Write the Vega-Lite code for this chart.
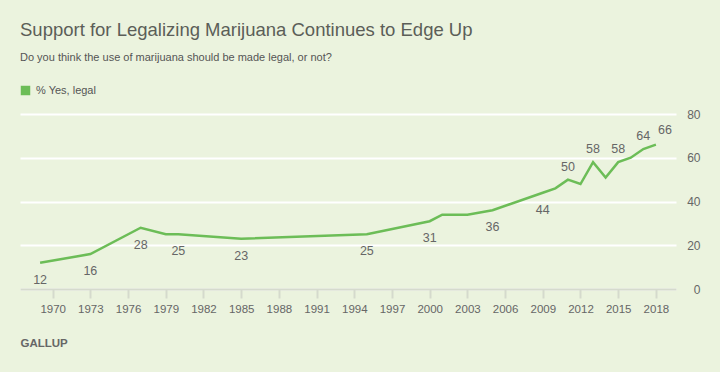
{
  "$schema": "https://vega.github.io/schema/vega-lite/v6.json",
  "autosize": "none",
  "width": 656,
  "height": 175,
  "padding": {"left": 20, "top": 114, "right": 44, "bottom": 83},
  "background": "#ebf3de",
  "config": {
    "view": {"stroke": null},
    "font": "Liberation Sans",
    "text": {"font": "Liberation Sans"}
  },
  "title": {
    "text": "Support for Legalizing Marijuana Continues to Edge Up",
    "subtitle": "Do you think the use of marijuana should be made legal, or not?",
    "anchor": "start",
    "frame": "group",
    "fontSize": 18.5,
    "fontWeight": "normal",
    "color": "#5b5e58",
    "subtitleFontSize": 11,
    "subtitleColor": "#555",
    "subtitlePadding": 13,
    "offset": 22
  },
  "data": {
    "values": [
      {"year": 1969, "pct": 12},
      {"year": 1972, "pct": 15},
      {"year": 1973, "pct": 16},
      {"year": 1977, "pct": 28},
      {"year": 1979, "pct": 25},
      {"year": 1980, "pct": 25},
      {"year": 1985, "pct": 23},
      {"year": 1995, "pct": 25},
      {"year": 2000, "pct": 31},
      {"year": 2001, "pct": 34},
      {"year": 2003, "pct": 34},
      {"year": 2005, "pct": 36},
      {"year": 2009, "pct": 44},
      {"year": 2010, "pct": 46},
      {"year": 2011, "pct": 50},
      {"year": 2012, "pct": 48},
      {"year": 2013, "pct": 58},
      {"year": 2014, "pct": 51},
      {"year": 2015, "pct": 58},
      {"year": 2016, "pct": 60},
      {"year": 2017, "pct": 64},
      {"year": 2018, "pct": 66}
    ]
  },
  "encoding": {
    "x": {
      "field": "year",
      "type": "quantitative",
      "scale": {"domain": [1967.4, 2019.6], "nice": false, "zero": false},
      "axis": {
        "values": [1970, 1973, 1976, 1979, 1982, 1985, 1988, 1991, 1994, 1997, 2000, 2003, 2006, 2009, 2012, 2015, 2018],
        "format": "d",
        "grid": false,
        "domainColor": "#d5dacd",
        "domainWidth": 2,
        "tickColor": "#d5dacd",
        "tickWidth": 2,
        "tickSize": 9,
        "labelColor": "#666",
        "labelFontSize": 11.5,
        "labelPadding": 5,
        "title": "GALLUP",
        "titleAnchor": "start",
        "titleAlign": "left",
        "titleColor": "#666",
        "titleFontSize": 11.5,
        "titleFontWeight": "bold",
        "titlePadding": 23
      }
    },
    "y": {
      "field": "pct",
      "type": "quantitative",
      "scale": {"domain": [0, 80], "nice": false},
      "axis": {
        "orient": "right",
        "values": [0, 20, 40, 60, 80],
        "grid": true,
        "gridColor": "#ffffff",
        "gridWidth": 2,
        "domain": false,
        "ticks": false,
        "labelAlign": "right",
        "labelPadding": 24,
        "labelColor": "#666",
        "labelFontSize": 12,
        "title": null
      }
    }
  },
  "layer": [
    {
      "mark": {"type": "line", "strokeWidth": 2.5},
      "encoding": {
        "color": {
          "datum": "% Yes, legal",
          "type": "nominal",
          "scale": {"range": ["#6cbd57"]},
          "legend": {
            "orient": "none",
            "legendX": 0,
            "legendY": -29,
            "title": null,
            "symbolType": "square",
            "symbolSize": 90,
            "symbolStrokeWidth": 0,
            "symbolFillColor": "#6cbd57",
            "labelFontSize": 11,
            "labelColor": "#555",
            "labelOffset": 5
          }
        }
      }
    },
    {
      "transform": [{"filter": {"field": "year", "oneOf": [1969, 1973, 1977, 1980, 1985, 1995, 2000, 2005, 2009]}}],
      "mark": {"type": "text", "dy": 17, "fontSize": 12.5, "color": "#666"},
      "encoding": {"text": {"field": "pct", "type": "quantitative"}}
    },
    {
      "transform": [{"filter": {"field": "year", "oneOf": [2011, 2013, 2015, 2017]}}],
      "mark": {"type": "text", "dy": -13, "fontSize": 12.5, "color": "#666"},
      "encoding": {"text": {"field": "pct", "type": "quantitative"}}
    },
    {
      "transform": [{"filter": {"field": "year", "oneOf": [2018]}}],
      "mark": {"type": "text", "dy": -15, "dx": 9, "fontSize": 12.5, "color": "#666"},
      "encoding": {"text": {"field": "pct", "type": "quantitative"}}
    }
  ]
}
